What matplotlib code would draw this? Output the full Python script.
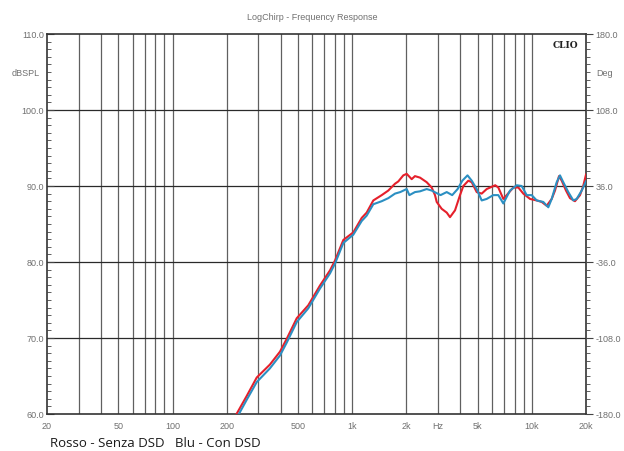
import matplotlib.pyplot as plt
from matplotlib.ticker import FixedLocator, MultipleLocator, NullFormatter

plt.rcParams['font.family'] = ['Liberation Sans', 'DejaVu Sans']

# red - without DSD
f_red = [227, 259, 294, 348, 396, 432, 491, 569, 661, 752, 802, 892, 1014, 1129,
         1203, 1310, 1459, 1587, 1730, 1804, 1924, 2009, 2142, 2234, 2384, 2596,
         2768, 2888, 2952, 3146, 3356, 3500, 3733, 3980, 4152, 4427, 4624, 4929,
         5254, 5603, 6250, 6500, 6932, 7238, 7878, 8403, 8955, 9760, 10636, 11339,
         12084, 12888, 13444, 14152, 14650, 15478, 16290, 17366, 18524, 19300, 20000]
db_red = [60.0, 62.4, 64.8, 66.5, 68.2, 69.9, 72.6, 74.3, 76.9, 78.9, 80.2, 82.9, 83.9, 85.8,
          86.5, 88.1, 88.8, 89.4, 90.3, 90.6, 91.4, 91.6, 90.9, 91.3, 91.1, 90.5,
          89.8, 88.8, 87.9, 87.0, 86.5, 85.9, 86.8, 88.8, 90.0, 90.7, 90.5, 89.2,
          89.0, 89.6, 90.1, 89.8, 88.3, 88.8, 89.8, 89.8, 89.0, 88.3, 88.1, 87.9,
          87.4, 88.3, 89.4, 91.3, 90.7, 89.4, 88.4, 88.0, 88.8, 90.0, 91.5]

# blue - with DSD
f_blue = [234, 259, 294, 348, 396, 432, 491, 569, 661, 752, 802, 892, 1014, 1129,
          1203, 1310, 1459, 1587, 1730, 1850, 2009, 2080, 2234, 2384, 2596, 2768,
          3100, 3356, 3600, 3860, 4100, 4380, 4624, 4929, 5254, 5603, 6096, 6500,
          6932, 7552, 8232, 8774, 9354, 9972, 10636, 11570, 12336, 12888, 13736,
          14330, 14948, 15940, 16996, 17752, 18924, 20000]
db_blue = [60.0, 61.9, 64.2, 66.0, 67.7, 69.4, 72.1, 73.9, 76.5, 78.5, 79.8, 82.5, 83.6, 85.4,
           86.1, 87.6, 88.0, 88.4, 89.0, 89.2, 89.6, 88.8, 89.2, 89.3, 89.6, 89.4,
           88.8, 89.2, 88.8, 89.6, 90.7, 91.4, 90.7, 89.6, 88.1, 88.3, 88.8, 88.8,
           87.7, 89.4, 90.1, 90.0, 88.8, 88.8, 88.1, 87.9, 87.2, 88.3, 90.5,
           91.4, 90.5, 89.2, 88.1, 88.3, 89.4, 90.6]

xticks = [20, 50, 100, 200, 500, 1000, 2000, 3000, 5000, 10000, 20000]
xlabels = ['20', '50', '100', '200', '500', '1k', '2k', 'Hz', '5k', '10k', '20k']
yticks = [60, 70, 80, 90, 100, 110]
deg_ticks = [-180, -108, -36, 36, 108, 180]

grey = '#707070'

fig = plt.figure(figsize=(6.24, 4.52), dpi=100)
ax = fig.add_axes([47/624, 37/452, 539/624, 380/452])

# vertical log grid (1..9 per decade)
vlines = [m * 10**e for e in range(1, 5) for m in range(1, 10) if 20 < m * 10**e < 20000]
for v in vlines:
    ax.axvline(v, color='#606060', lw=0.9, zorder=1)
for h in [70, 80, 90, 100]:
    ax.axhline(h, color='#2a2a2a', lw=0.9, zorder=1)

ax.plot(f_red, db_red, color='#e5202b', lw=1.5, zorder=3)
ax.plot(f_blue, db_blue, color='#2b8fc2', lw=1.5, zorder=4)

ax.set_xscale('log')
ax.set_xlim(20, 20000)
ax.set_ylim(60, 110)
ax.xaxis.set_major_locator(FixedLocator(xticks))
ax.set_xticklabels(xlabels)
ax.xaxis.set_minor_formatter(NullFormatter())
ax.tick_params(axis='x', which='both', length=0, labelsize=6.5, labelcolor=grey, pad=5)
ax.set_yticks(yticks)
ax.set_yticklabels(['%.1f' % y for y in yticks])
ax.yaxis.set_minor_locator(MultipleLocator(1))
ax.tick_params(axis='y', which='major', direction='in', length=5, labelsize=6.5,
               labelcolor=grey, color='#444444', pad=2)
ax.tick_params(axis='y', which='minor', direction='in', length=3, color='#444444')
for s in ax.spines.values():
    s.set_color('#333333')
    s.set_linewidth(1.2)

ax2 = ax.twinx()
ax2.set_ylim(-180, 180)
ax2.set_yticks(deg_ticks)
ax2.set_yticklabels(['%.1f' % d for d in deg_ticks])
ax2.yaxis.set_minor_locator(MultipleLocator(7.2))
ax2.tick_params(axis='y', which='major', direction='out', length=5, labelsize=6.5,
                labelcolor=grey, color='#444444', pad=2)
ax2.tick_params(axis='y', which='minor', direction='out', length=3, color='#444444')
for s in ax2.spines.values():
    s.set_visible(False)

fig.text(0.5, 1 - 18/452, 'LogChirp - Frequency Response', ha='center', va='center',
         fontsize=6.5, color=grey)
fig.text(40/624, 1 - 74/452, 'dBSPL', ha='right', va='center', fontsize=6.5, color=grey)
fig.text(596/624, 1 - 74/452, 'Deg', ha='left', va='center', fontsize=6.5, color=grey)
ax.text(0.985, 0.985, 'CLIO', transform=ax.transAxes, ha='right', va='top',
        fontsize=6.5, fontweight='bold', family='DejaVu Serif', color='#222222')
fig.text(50/624, 1 - 444/452, 'Rosso - Senza DSD   Blu - Con DSD', ha='left', va='center',
         fontsize=9.5, family='Open Sans', color='#1a1a1a')

fig.savefig('out.png', dpi=100)
